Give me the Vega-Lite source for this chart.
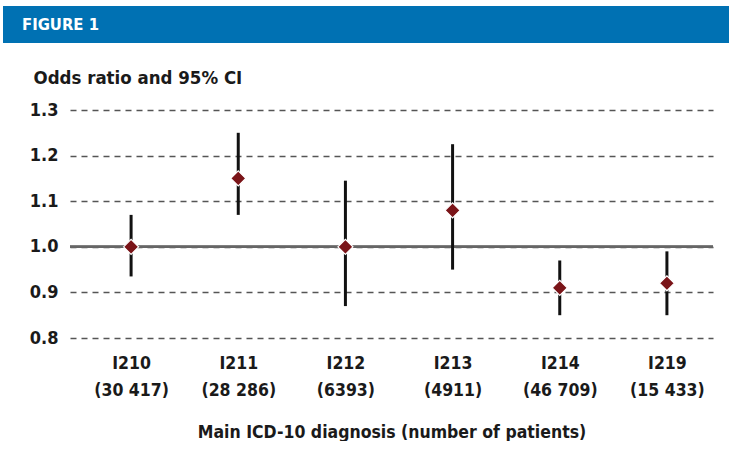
{
  "$schema": "https://vega.github.io/schema/vega-lite/v6.json",
  "background": "white",
  "padding": {"left": 3, "top": 6, "right": 0, "bottom": 0},
  "spacing": 25,
  "config": {
    "font": "'DejaVu Sans Condensed', 'Liberation Sans', sans-serif",
    "view": {"stroke": null}
  },
  "datasets": {
    "or": [
      {"code": "I210|(30 417)", "or": 1.00, "lo": 0.935, "hi": 1.07},
      {"code": "I211|(28 286)", "or": 1.15, "lo": 1.07, "hi": 1.25},
      {"code": "I212|(6393)", "or": 1.00, "lo": 0.87, "hi": 1.145},
      {"code": "I213|(4911)", "or": 1.08, "lo": 0.95, "hi": 1.225},
      {"code": "I214|(46 709)", "or": 0.91, "lo": 0.85, "hi": 0.97},
      {"code": "I219|(15 433)", "or": 0.92, "lo": 0.85, "hi": 0.99}
    ],
    "header": [{"label": "FIGURE 1", "pos": 0}]
  },
  "vconcat": [
    {
      "width": 726,
      "height": 37,
      "view": {"fill": "#0071b3", "stroke": null},
      "data": {"name": "header"},
      "mark": {"type": "text", "align": "left", "baseline": "middle", "dx": 19, "color": "white", "fontSize": 16.5, "fontWeight": "bold"},
      "encoding": {
        "x": {"field": "pos", "type": "quantitative", "scale": {"domain": [0, 1]}, "axis": null},
        "text": {"field": "label"}
      }
    },
    {
      "spacing": 0,
      "hconcat": [
        {
          "width": 26,
          "height": 10,
          "data": {"values": []},
          "mark": "point",
          "encoding": {}
        },
        {
          "width": 643,
          "height": 228,
          "data": {"name": "or"},
          "encoding": {
            "x": {
              "field": "code",
              "type": "ordinal",
              "sort": null,
              "scale": {"type": "point", "padding": 0.5, "align": 0.57},
              "axis": {
                "labelExpr": "split(datum.value, '|')",
                "labelAngle": 0,
                "domain": false,
                "ticks": false,
                "grid": false,
                "labelPadding": 16,
                "labelFontSize": 17.5,
                "labelFontWeight": "bold",
                "labelLineHeight": 27,
                "labelColor": "#1a1a1a",
                "title": "Main ICD-10 diagnosis (number of patients)",
                "titleFontSize": 17.5,
                "titleFontWeight": "bold",
                "titleColor": "#1a1a1a",
                "titlePadding": 25
              }
            }
          },
          "layer": [
            {
              "mark": {"type": "rule", "color": "#666666", "strokeWidth": 2},
              "encoding": {
                "x": null,
                "y": {
                  "datum": 1.0,
                  "type": "quantitative",
                  "scale": {"domain": [0.8, 1.3], "nice": false, "zero": false},
                  "axis": {
                    "values": [0.8, 0.9, 1.0, 1.1, 1.2, 1.3],
                    "format": ".1f",
                    "grid": true,
                    "gridDash": [6, 5],
                    "gridColor": "#555555",
                    "gridWidth": 1.5,
                    "domain": false,
                    "ticks": false,
                    "labelFontSize": 18,
                    "labelFontWeight": "bold",
                    "labelColor": "#1a1a1a",
                    "labelPadding": 12,
                    "title": "Odds ratio and 95% CI",
                    "titleAngle": 0,
                    "titleAlign": "left",
                    "titleBaseline": "alphabetic",
                    "titleX": -37,
                    "titleY": -27,
                    "titleFontSize": 18.5,
                    "titleFontWeight": "bold",
                    "titleColor": "#1a1a1a"
                  }
                }
              }
            },
            {
              "mark": {"type": "rule", "color": "#111111", "strokeWidth": 3},
              "encoding": {
                "y": {"field": "lo", "type": "quantitative"},
                "y2": {"field": "hi"}
              }
            },
            {
              "mark": {"type": "point", "shape": "diamond", "filled": true, "size": 225, "color": "#7a1418", "opacity": 1, "stroke": "white", "strokeWidth": 1.2},
              "encoding": {
                "y": {"field": "or", "type": "quantitative"}
              }
            }
          ]
        }
      ]
    }
  ]
}
